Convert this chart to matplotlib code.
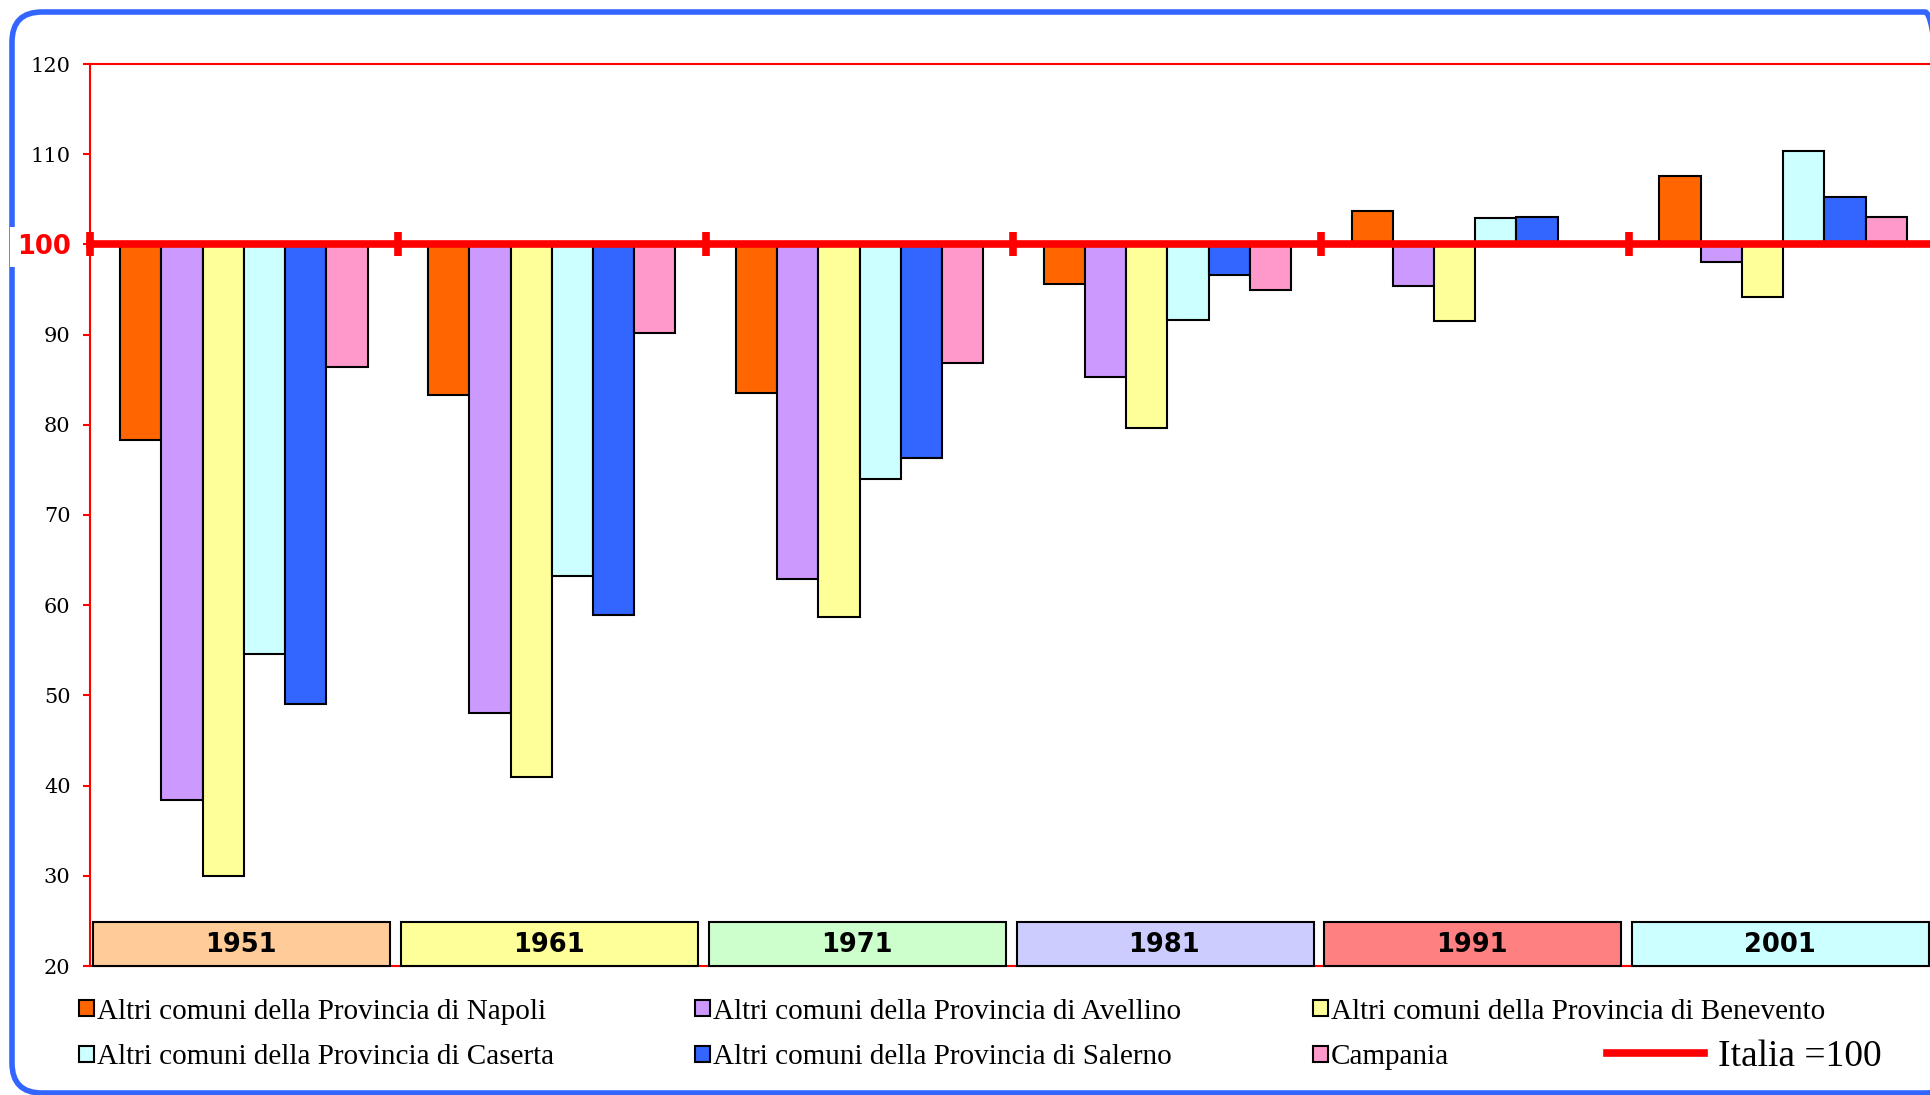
import numpy as np
import matplotlib.pyplot as plt
from matplotlib.patches import FancyBboxPatch, Rectangle
from matplotlib.lines import Line2D
from matplotlib.transforms import IdentityTransform

# ---------------------------
# Data (Italia = 100)
# ---------------------------
years = ["1951", "1961", "1971", "1981", "1991", "2001"]
series_names = [
    "Altri comuni della Provincia di Napoli",
    "Altri comuni della Provincia di Avellino",
    "Altri comuni della Provincia di Benevento",
    "Altri comuni della Provincia di Caserta",
    "Altri comuni della Provincia di Salerno",
    "Campania",
]
napoli = [78.3, 83.3, 83.5, 95.6, 103.7, 107.6]
avellino = [38.4, 48.0, 62.9, 85.3, 95.4, 98.1]
benevento = [30.0, 41.0, 58.7, 79.7, 91.5, 94.2]
caserta = [54.6, 63.2, 74.0, 91.6, 102.9, 110.4]
salerno = [49.0, 58.9, 76.3, 96.6, 103.0, 105.2]
campania = [86.4, 90.2, 86.9, 95.0, 100.0, 103.0]
italia = 100

series_colors = ["#FF6600", "#CC99FF", "#FFFF99", "#CCFFFF", "#3366FF", "#FF99CC"]
year_colors = ["#FFCC99", "#FFFF99", "#CCFFCC", "#CCCCFF", "#FF8080", "#CCFFFF"]

W, H = 1931, 1095

# ---------------------------
# Figure
# ---------------------------
fig = plt.figure(figsize=(W / 100, H / 100), dpi=100)
ax = fig.add_axes([90 / W, 129 / H, 1847 / W, 902 / H])

x = np.arange(len(years))
bw = 0.134
handles = []
for j, (vals, col) in enumerate(zip([napoli, avellino, benevento, caserta, salerno, campania], series_colors)):
    vals = np.array(vals)
    b = ax.bar(x + 0.5 + (j - 2.5) * bw, vals - italia, bottom=italia, width=bw,
               color=col, edgecolor="black", linewidth=1.5, zorder=2)
    handles.append(b)

# reference line Italia = 100 with category separators
xs = np.arange(len(years) + 1)
ax.plot(xs, [italia] * len(xs), color="red", lw=5.5, marker="|", ms=17, mew=5.5,
        zorder=3, clip_on=False)

# year boxes on the bottom
for i, (yr, fc) in enumerate(zip(years, year_colors)):
    ax.add_patch(Rectangle((i + 0.01, 20), 0.965, 4.9, facecolor=fc, edgecolor="black",
                           lw=1.5, zorder=4, clip_on=False))
    ax.text(i + 0.49, 22.3, yr, ha="center", va="center", fontsize=18.5,
            fontweight="bold", family="DejaVu Sans", zorder=5)

ax.set_xlim(0, 6)
ax.set_ylim(20, 120)
ax.set_xticks([])
ax.set_yticks(range(20, 121, 10))
ax.tick_params(axis="y", direction="out", length=5, width=1.5, color="red",
               labelcolor="black", labelsize=15, pad=9)
for lab in ax.get_yticklabels():
    lab.set_family("DejaVu Serif")
    if lab.get_text() == "100":
        lab.set_color("red")
        lab.set_family("DejaVu Sans")
        lab.set_fontweight("bold")
        lab.set_fontsize(18.5)
        lab.set_bbox(dict(facecolor="white", edgecolor="none", pad=5))

for s in ["left", "top", "bottom"]:
    ax.spines[s].set_color("red")
    ax.spines[s].set_linewidth(1.5)
ax.spines["right"].set_visible(False)

# ---------------------------
# Legend
# ---------------------------
leg_kw = dict(frameon=False, borderpad=0, borderaxespad=0, handlelength=0.5,
              handleheight=0.5, handletextpad=0.12, labelspacing=0.68,
              prop=dict(family="Liberation Serif", size=21))
for cx, idx in zip([79, 695, 1313], [[0, 3], [1, 4], [2, 5]]):
    fig.legend([handles[k] for k in idx], [series_names[k] for k in idx],
               loc="center left", bbox_to_anchor=(cx / W, 0.0553), **leg_kw)

fig.legend([Line2D([], [], color="red", lw=5.5)], ["Italia =100"], loc="center left",
           bbox_to_anchor=(1607 / W, 0.0347), frameon=False, borderpad=0, borderaxespad=0,
           handlelength=2.6, handletextpad=0.35, prop=dict(family="Liberation Serif", size=27))

# blue rounded frame
frame = FancyBboxPatch((12, 2), 1943, 1081, boxstyle="round,pad=0,rounding_size=30",
                       transform=IdentityTransform(), fill=False, edgecolor="#3366FF",
                       lw=4, zorder=-1)
fig.add_artist(frame)

fig.savefig("out.png", dpi=100)
